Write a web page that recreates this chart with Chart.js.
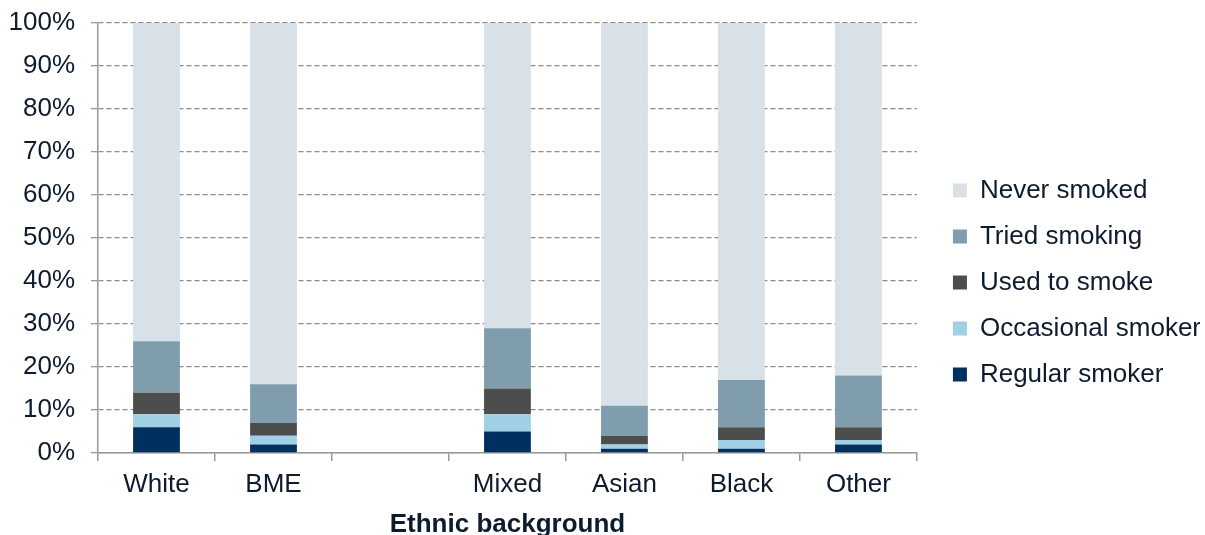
<!DOCTYPE html>
<html>
<head>
<meta charset="utf-8">
<script src="https://cdn.jsdelivr.net/npm/chart.js@4/dist/chart.umd.min.js"></script>
<style>
html,body{margin:0;padding:0;background:#fff;}
#wrap{width:1205px;height:535px;position:relative;}
</style>
</head>
<body>
<div id="wrap"><canvas id="c"></canvas></div>
<script>
const categories = ['White', 'BME', '', 'Mixed', 'Asian', 'Black', 'Other'];
const regularSmoker    = [6, 2, null, 5, 1, 1, 2];
const occasionalSmoker = [3, 2, null, 4, 1, 2, 1];
const usedToSmoke      = [5, 3, null, 6, 2, 3, 3];
const triedSmoking     = [12, 9, null, 14, 7, 11, 12];
const neverSmoked      = [74, 84, null, 71, 89, 83, 82];
const yTicks = [0, 10, 20, 30, 40, 50, 60, 70, 80, 90, 100];

const TXT = '#0d1b2e';
const FONT = 'Liberation Sans, Arial, sans-serif';
const LEGEND_EXTRA = 5;   // extra room reserved for the legend box
const LEGEND_SHIFT = 16;  // distance between plot edge and legend start

const legendGap = {
  id: 'legendGap',
  beforeLayout(chart) {
    const lg = chart.legend;
    if (lg && !lg._gapWrapped) {
      const orig = lg.fit;
      lg.fit = function () { orig.call(this); this.width = Math.min(this.width + LEGEND_EXTRA, this.maxWidth); };
      lg._gapWrapped = true;
    }
  },
  afterLayout(chart) {
    if (chart.legend) chart.legend.left = chart.chartArea.right + LEGEND_SHIFT;
  }
};

new Chart(document.getElementById('c'), {
  type: 'bar',
  plugins: [legendGap],
  data: {
    labels: categories,
    datasets: [
      {label: 'Regular smoker', data: regularSmoker, backgroundColor: '#00305e'},
      {label: 'Occasional smoker', data: occasionalSmoker, backgroundColor: '#9fd0e6'},
      {label: 'Used to smoke', data: usedToSmoke, backgroundColor: '#4d4d4d'},
      {label: 'Tried smoking', data: triedSmoking, backgroundColor: '#7f9dad'},
      {label: 'Never smoked', data: neverSmoked, backgroundColor: '#d8e0e8'}
    ]
  },
  options: {
    responsive: true,
    maintainAspectRatio: false,
    animation: false,
    datasets: {bar: {categoryPercentage: 1, barPercentage: 0.4, borderWidth: 0}},
    layout: {padding: {top: 23, left: 6, right: 5, bottom: 0}},
    plugins: {
      tooltip: {enabled: false},
      legend: {
        position: 'right',
        reverse: true,
        title: {display: true, text: ' ', font: {size: 7, lineHeight: 1}, padding: 0},
        labels: {
          font: {family: FONT, size: 26},
          color: TXT,
          boxWidth: 14,
          boxHeight: 14,
          padding: 20
        }
      }
    },
    scales: {
      x: {
        stacked: true,
        offset: true,
        afterFit: (s) => { s.height = 82; },
        grid: {offset: true, drawOnChartArea: false, drawTicks: true, tickLength: 8, color: '#999999', lineWidth: 1.5},
        border: {display: true, color: '#999999', width: 1.5},
        ticks: {font: {family: FONT, size: 26}, color: TXT, padding: 8, maxRotation: 0, autoSkip: false},
        title: {display: true, text: 'Ethnic background', font: {family: FONT, size: 26, weight: 'bold', lineHeight: 1}, color: TXT, padding: {top: 10, bottom: -3}}
      },
      y: {
        stacked: true,
        min: 0,
        max: 100,
        afterBuildTicks: (axis) => { axis.ticks = yTicks.map(v => ({value: v})); },
        afterFit: (s) => { s.width = 92; s.paddingTop = 0; s.paddingBottom = 0; },
        grid: {color: '#8c8c8c', lineWidth: 1.3, drawTicks: true, tickLength: 7, tickColor: '#999999', tickBorderDash: []},
        border: {display: true, color: '#999999', width: 1.5, dash: [5, 3]},
        ticks: {font: {family: FONT, size: 26}, color: TXT, padding: 16, callback: (v) => v + '%'}
      }
    }
  }
});
</script>
</body>
</html>
